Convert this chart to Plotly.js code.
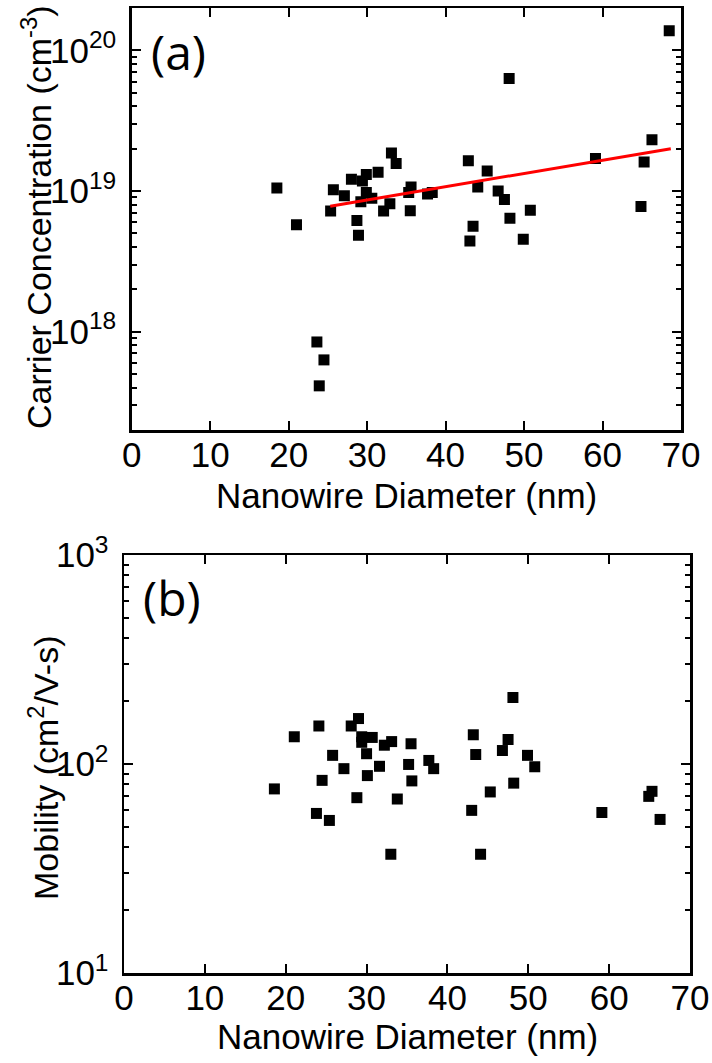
<!DOCTYPE html>
<html>
<head>
<meta charset="utf-8">
<script src="https://cdn.plot.ly/plotly-3.0.1.min.js"></script>
<style>
html,body{margin:0;padding:0;background:#fff;}
#chart{width:712px;height:1063px;}
</style>
</head>
<body>
<div id="chart"></div>
<script>
// ---- Data: panel (a) carrier concentration ----
var diameterA = [18.5, 21.0, 23.6, 23.9, 24.5, 25.35, 25.7, 27.1, 28.0, 28.7, 28.9, 29.2, 29.4, 29.9, 29.9, 30.6, 31.4, 32.1, 32.9, 33.1, 33.7, 35.3, 35.6, 35.5, 37.7, 38.3, 42.9, 43.1, 43.5, 44.1, 45.3, 46.7, 47.5, 48.1, 48.2, 49.9, 50.8, 59.1, 64.9, 65.3, 66.3, 68.5];
var carrierConc = [1.05e19, 5.75e18, 8.45e17, 4.12e17, 6.3e17, 7.21e18, 1.02e19, 9.27e18, 1.21e19, 6.17e18, 4.85e18, 8.39e18, 1.18e19, 1.31e19, 9.77e18, 8.87e18, 1.36e19, 7.21e18, 8.13e18, 1.86e19, 1.57e19, 9.77e18, 1.07e19, 7.24e18, 9.53e18, 9.77e18, 1.64e19, 4.42e18, 5.62e18, 1.07e19, 1.39e19, 1.0e19, 8.71e18, 6.31e19, 6.4e18, 4.54e18, 7.29e18, 1.70e19, 7.76e18, 1.61e19, 2.31e19, 1.38e20];
// fit line (red)
var fitDiameter = [25.3, 68.7];
var fitConc = [7.8e18, 2.0e19];

// ---- Data: panel (b) mobility ----
var diameterB = [18.6, 21.06, 24.1, 23.8, 24.5, 25.4, 25.8, 27.2, 28.1, 28.8, 29.0, 29.4, 29.4, 30.0, 30.1, 30.7, 31.6, 32.2, 33.0, 33.1, 33.8, 35.5, 35.2, 35.6, 37.7, 38.3, 43.2, 43.5, 43.0, 44.1, 45.3, 46.8, 47.5, 48.1, 48.2, 49.9, 50.8, 59.1, 64.9, 65.3, 66.3];
var mobility = [76, 135, 152, 58, 83.5, 53.7, 110, 95, 152, 69, 165, 135, 127, 112, 88, 134, 97.5, 123, 37, 128, 68, 125, 99.5, 83, 104, 95, 138, 111, 60, 37, 73.5, 116, 131, 208, 81, 110, 97, 58.6, 70, 74, 54.3];

// ---- Tick labels ----
var xTickVals = [0, 10, 20, 30, 40, 50, 60, 70];
var yTickValsA = [1e18, 1e19, 1e20];
var yTickTextA = ['10<sup>18</sup>', '10<sup>19</sup>', '10<sup>20</sup>'];
var yTickValsB = [10, 100, 1000];
var yTickTextB = ['10<sup>1</sup>', '10<sup>2</sup>', '10<sup>3</sup>'];
var xTitle = 'Nanowire Diameter (nm)';
var yTitleA = 'Carrier Concentration (cm<sup>-3</sup>)';
var yTitleB = 'Mobility (cm<sup>2</sup>/V-s)';

var FONT = '"Liberation Sans", Arial, sans-serif';

var traces = [
  {x: diameterA, y: carrierConc, type: 'scatter', mode: 'markers', xaxis: 'x', yaxis: 'y',
   marker: {symbol: 'square', size: 11, color: '#000'}},
  {x: fitDiameter, y: fitConc, type: 'scatter', mode: 'lines', xaxis: 'x', yaxis: 'y',
   line: {color: '#ff0000', width: 3}},
  {x: diameterB, y: mobility, type: 'scatter', mode: 'markers', xaxis: 'x2', yaxis: 'y2',
   marker: {symbol: 'square', size: 11, color: '#000'}}
];

function xAxis(domain, anchor) {
  return {
    domain: domain, anchor: anchor, range: [0, 70], tickmode: 'array', tickvals: xTickVals,
    showline: true, linecolor: '#000', linewidth: 2.5, mirror: 'ticks',
    ticks: 'inside', ticklen: 9, tickwidth: 2, tickcolor: '#000',
    showgrid: false, zeroline: false, ticklabelstandoff: -8,
    tickfont: {family: FONT, size: 35, color: '#000'}
  };
}
function yAxis(domain, anchor, range, vals, text) {
  return {
    domain: domain, anchor: anchor, type: 'log', range: range,
    tickmode: 'array', tickvals: vals, ticktext: text,
    showline: true, linecolor: '#000', linewidth: 2.5, mirror: 'ticks',
    ticks: 'inside', ticklen: 9, tickwidth: 2, tickcolor: '#000',
    minor: {ticks: 'inside', ticklen: 5, tickwidth: 2, tickcolor: '#000', dtick: 'D1', showgrid: false},
    showgrid: false, zeroline: false, ticklabelstandoff: 6,
    tickfont: {family: FONT, size: 35, color: '#000'}
  };
}

var layout = {
  width: 712, height: 1063,
  margin: {l: 0, r: 0, t: 0, b: 0},
  paper_bgcolor: '#fff', plot_bgcolor: '#fff',
  showlegend: false,
  xaxis: xAxis([131.7/712, 681/712], 'y'),
  yaxis: yAxis([1-430/1063, 1-8/1063], 'x', [Math.log10(2e17), Math.log10(2e20)], yTickValsA, yTickTextA),
  xaxis2: xAxis([124/712, 690/712], 'y2'),
  yaxis2: yAxis([1-973/1063, 1-555/1063], 'x2', [1, 3], yTickValsB, yTickTextB),
  annotations: [
    {text: xTitle, xref: 'paper', yref: 'paper', x: 406/712, y: 1-495/1063, showarrow: false,
     xanchor: 'center', yanchor: 'middle', font: {family: FONT, size: 35, color: '#000'}},
    {text: xTitle, xref: 'paper', yref: 'paper', x: 407/712, y: 1-1036/1063, showarrow: false,
     xanchor: 'center', yanchor: 'middle', font: {family: FONT, size: 35, color: '#000'}},
    {text: yTitleA, xref: 'paper', yref: 'paper', x: 36/712, y: 1-217/1063, showarrow: false, textangle: -90,
     xanchor: 'center', yanchor: 'middle', font: {family: FONT, size: 34, color: '#000'}},
    {text: yTitleB, xref: 'paper', yref: 'paper', x: 43/712, y: 1-768/1063, showarrow: false, textangle: -90,
     xanchor: 'center', yanchor: 'middle', font: {family: FONT, size: 34, color: '#000'}},
    {text: '(a)', xref: 'paper', yref: 'paper', x: 178/712, y: 1-51/1063, showarrow: false,
     xanchor: 'center', yanchor: 'middle', font: {family: '"Open Sans", sans-serif', size: 48, color: '#000'}},
    {text: '(b)', xref: 'paper', yref: 'paper', x: 172/712, y: 1-597/1063, showarrow: false,
     xanchor: 'center', yanchor: 'middle', font: {family: '"Open Sans", sans-serif', size: 48, color: '#000'}}
  ]
};

Plotly.newPlot('chart', traces, layout, {staticPlot: true, displayModeBar: false});
</script>
</body>
</html>
